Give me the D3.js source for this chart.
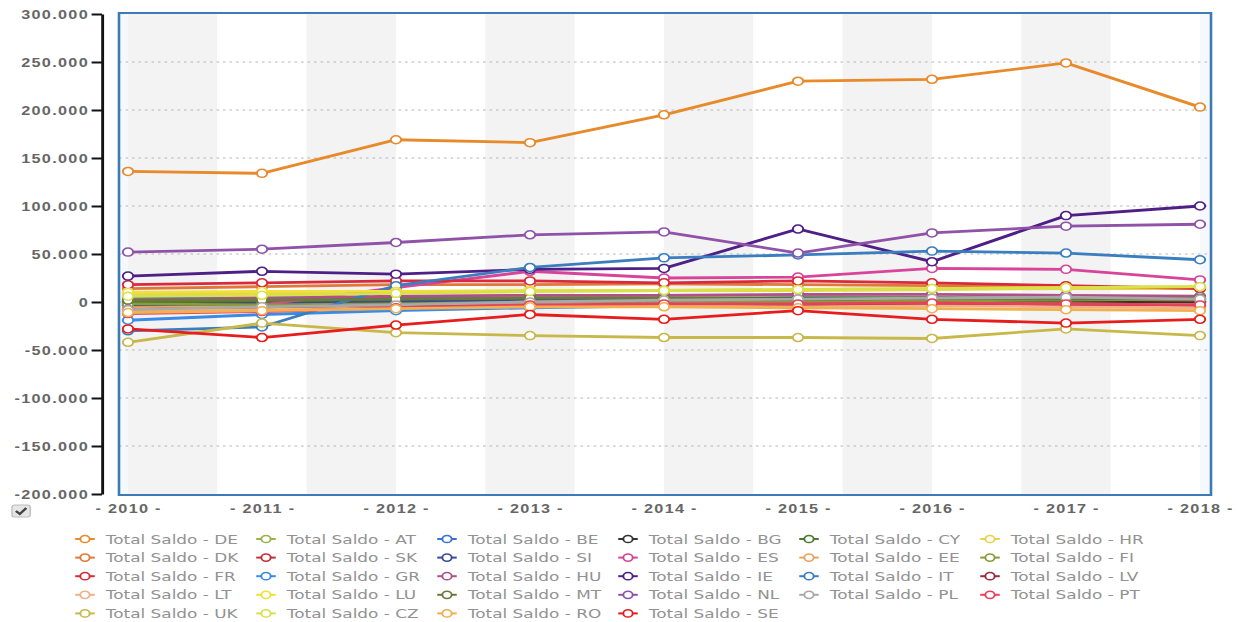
<!DOCTYPE html>
<html lang="en">
  <head>
    <meta charset="UTF-8" />
    <title>Total Saldo</title>
    <style>
      body { margin: 0; background: #fff; }
      svg { display: block; font-family: 'DejaVu Sans', Verdana, sans-serif; }
      .y-axis text { fill: #666; font-weight: bold; font-size: 12.5px; letter-spacing: 1px; }
      .x-axis text { fill: #666; font-weight: bold; font-size: 12.5px; letter-spacing: 1px; }
      .legend text { fill: #929292; font-size: 13px; }
    </style>
  </head>
  <body>
    <svg width="1244" height="622"></svg>
    <script src="https://d3js.org/d3.v7.min.js"></script>
    <script>
      // data
      const years = [2010, 2011, 2012, 2013, 2014, 2015, 2016, 2017, 2018];
      const yTicks = [-200000, -150000, -100000, -50000, 0, 50000, 100000, 150000, 200000, 250000, 300000];

      const countries = ['DE', 'AT', 'BE', 'BG', 'CY', 'HR', 'DK', 'SK', 'SI', 'ES', 'EE', 'FI', 'FR', 'GR',
        'HU', 'IE', 'IT', 'LV', 'LT', 'LU', 'MT', 'NL', 'PL', 'PT', 'UK', 'CZ', 'RO', 'SE'];

      const saldoDE = [136000, 134000, 169000, 166000, 195000, 230000, 232000, 249000, 203000];
      const saldoAT = [4000, 3000, 5000, 6000, 7000, 6000, 5000, 4000, 5000];
      const saldoBE = [5000, 6000, 4000, 3000, 2000, 3000, 2000, 1000, 0];
      const saldoBG = [-2000, -1000, 0, 1000, 1000, 2000, 1000, 0, 0];
      const saldoCY = [0, 1000, 2000, 3000, 3000, 4000, 4000, 3000, 2000];
      const saldoHR = [8000, 9000, 10000, 11000, 12000, 12000, 13000, 14000, 14000];
      const saldoDK = [14000, 16000, 18000, 18000, 19000, 18000, 17000, 16000, 15000];
      const saldoSK = [-4000, -3000, -1000, 1000, 2000, 3000, 4000, 3000, 2000];
      const saldoSI = [-3000, -2000, 0, 2000, 3000, 4000, 4000, 4000, 3000];
      const saldoES = [-10000, -3000, 15000, 32000, 25000, 26000, 35000, 34000, 23000];
      const saldoEE = [-6000, -5000, -4000, -3000, -3000, -3000, -2000, -2000, -3000];
      const saldoFI = [-2000, -3000, -2000, 0, 1000, 0, 1000, 2000, 3000];
      const saldoFR = [18000, 20000, 22000, 22000, 20000, 22000, 20000, 17000, 14000];
      const saldoGR = [-19000, -13000, -9000, -6000, -4000, -3000, -3000, -4000, -4000];
      const saldoHU = [2000, 4000, 6000, 7000, 7000, 8000, 8000, 7000, 6000];
      const saldoIE = [27000, 32000, 29000, 34000, 35000, 76000, 42000, 90000, 100000];
      const saldoIT = [-30000, -26000, 17000, 36000, 46000, 49000, 53000, 51000, 44000];
      const saldoLV = [-8000, -6000, -5000, -4000, -4000, -3000, -3000, -4000, -5000];
      const saldoLT = [-9000, -8000, -6000, -5000, -4000, -5000, -4000, -5000, -6000];
      const saldoLU = [10000, 11000, 11000, 12000, 12000, 13000, 14000, 15000, 16000];
      const saldoMT = [2000, 2000, 3000, 4000, 4000, 3000, 4000, 3000, 4000];
      const saldoNL = [52000, 55000, 62000, 70000, 73000, 51000, 72000, 79000, 81000];
      const saldoPL = [-8000, -5000, -3000, 0, 2000, 3000, 4000, 5000, 3000];
      const saldoPT = [-12000, -10000, -6000, -3000, -2000, -2000, -1000, -2000, -3000];
      const saldoUK = [-42000, -22000, -32000, -35000, -37000, -37000, -38000, -28000, -35000];
      const saldoCZ = [6000, 7000, 9000, 11000, 12000, 13000, 14000, 15000, 16000];
      const saldoRO = [-11000, -9000, -7000, -5000, -5000, -6000, -7000, -8000, -9000];
      const saldoSE = [-28000, -37000, -24000, -13000, -18000, -9000, -18000, -22000, -18000];

      const seriesValues = [saldoDE, saldoAT, saldoBE, saldoBG, saldoCY, saldoHR, saldoDK, saldoSK, saldoSI,
        saldoES, saldoEE, saldoFI, saldoFR, saldoGR, saldoHU, saldoIE, saldoIT, saldoLV, saldoLT, saldoLU,
        saldoMT, saldoNL, saldoPL, saldoPT, saldoUK, saldoCZ, saldoRO, saldoSE];

      const colors = ['#e8892a', '#9cb04a', '#3b6fd9', '#333333', '#4a7a2c', '#e8d24a', '#e0783a', '#c0303a',
        '#3a4a9a', '#d8449a', '#e8a560', '#8c9a3a', '#d82a3c', '#3a8ae8', '#b0508a', '#4e1f86', '#3a7ec0',
        '#9a2a40', '#f0b088', '#f0e03a', '#6a7a3a', '#8f52a8', '#a8a8a8', '#e8405a', '#c8b84a', '#d8e04a',
        '#f0b050', '#e81c1c'];

      const series = countries.map((c, i) => ({
        name: 'Total Saldo - ' + c,
        color: colors[i],
        values: years.map((yr, j) => ({ year: yr, value: seriesValues[i][j] }))
      }));

      // the reference picture is stretched sideways, so draw in a squeezed space and scale it back
      const sx = 1.3;
      const svg = d3.select('svg');
      const root = svg.append('g').attr('transform', `scale(${sx},1)`);

      const frame = { left: 119 / sx, right: 1211 / sx, top: 13, bottom: 495 };

      const x = d3.scalePoint().domain(years).range([128 / sx, 1200 / sx]);
      const y = d3.scaleLinear().domain([-200000, 300000]).range([494, 14]);

      const de = d3.formatLocale({ decimal: ',', thousands: '.', grouping: [3], currency: ['', '€'], minus: '-' });
      const fmt = de.format(',.0f');

      // plot background
      root.append('rect')
        .attr('x', frame.left).attr('y', frame.top)
        .attr('width', frame.right - frame.left).attr('height', frame.bottom - frame.top)
        .attr('fill', '#f6f9fc');

      const x0 = x(years[0]), x1 = x(years[years.length - 1]);
      const bandW = (x1 - x0) / 12;
      root.append('g')
        .selectAll('rect')
        .data(d3.range(12))
        .join('rect')
        .attr('x', (d) => x0 + d * bandW)
        .attr('y', frame.top)
        .attr('width', bandW)
        .attr('height', frame.bottom - frame.top)
        .attr('fill', (d) => (d % 2 === 0 ? '#f3f3f3' : '#ffffff'));

      // dotted grid lines
      root.append('g')
        .selectAll('line')
        .data(yTicks.slice(1, -1))
        .join('line')
        .attr('x1', frame.left).attr('x2', frame.right)
        .attr('y1', (d) => y(d)).attr('y2', (d) => y(d))
        .attr('stroke', '#b8b8b8')
        .attr('stroke-width', 1)
        .attr('stroke-dasharray', '2,3');

      // frame
      root.append('rect')
        .attr('x', frame.left).attr('y', frame.top)
        .attr('width', frame.right - frame.left).attr('height', frame.bottom - frame.top)
        .attr('fill', 'none')
        .attr('stroke', '#3d7ab8')
        .attr('stroke-width', 2);

      // y axis
      const yAxis = root.append('g')
        .attr('class', 'y-axis')
        .attr('transform', `translate(${102 / sx},0)`)
        .call(d3.axisLeft(y).tickValues(yTicks).tickFormat(fmt).tickSize(8).tickSizeOuter(0).tickPadding(2));
      yAxis.select('.domain').attr('stroke', '#111').attr('stroke-width', 2.2);
      yAxis.selectAll('.tick line').attr('stroke', '#111').attr('stroke-width', 2);

      // x axis labels
      const xAxis = root.append('g')
        .attr('class', 'x-axis')
        .attr('transform', `translate(0,${frame.bottom})`)
        .call(d3.axisBottom(x).tickFormat((d) => `- ${d} -`).tickSize(0).tickPadding(9));
      xAxis.select('.domain').remove();

      // lines and markers
      const line = d3.line().x((d) => x(d.year)).y((d) => y(d.value));

      const sg = root.append('g')
        .selectAll('g')
        .data(series)
        .join('g');

      sg.append('path')
        .attr('d', (d) => line(d.values))
        .attr('fill', 'none')
        .attr('stroke', (d) => d.color)
        .attr('stroke-width', 2.8);

      sg.selectAll('circle')
        .data((d) => d.values.map((v) => ({ ...v, color: d.color })))
        .join('circle')
        .attr('cx', (d) => x(d.year))
        .attr('cy', (d) => y(d.value))
        .attr('r', 4)
        .attr('fill', '#fff')
        .attr('stroke', (d) => d.color)
        .attr('stroke-width', 1.5);

      // checkbox
      const cb = root.append('g').attr('transform', `translate(${12 / sx},505)`);
      cb.append('rect')
        .attr('width', 14).attr('height', 12).attr('rx', 2)
        .attr('fill', '#e6e6e6').attr('stroke', '#bbb');
      cb.append('path')
        .attr('d', 'M3,6 L6,9 L11,3')
        .attr('fill', 'none').attr('stroke', '#444').attr('stroke-width', 2);

      // legend
      const legend = root.append('g')
        .attr('class', 'legend')
        .selectAll('g')
        .data(series)
        .join('g')
        .attr('transform', (d, i) => `translate(${(85 + (i % 6) * 181) / sx},${539 + Math.floor(i / 6) * 18.6})`);

      legend.append('line')
        .attr('x1', -7.5).attr('x2', 7.5)
        .attr('stroke', (d) => d.color)
        .attr('stroke-width', 2);
      legend.append('circle')
        .attr('r', 3.6)
        .attr('fill', '#fff')
        .attr('stroke', (d) => d.color)
        .attr('stroke-width', 1.5);
      legend.append('text')
        .attr('x', 16)
        .attr('dy', '0.36em')
        .text((d) => d.name);
    </script>
  </body>
</html>
